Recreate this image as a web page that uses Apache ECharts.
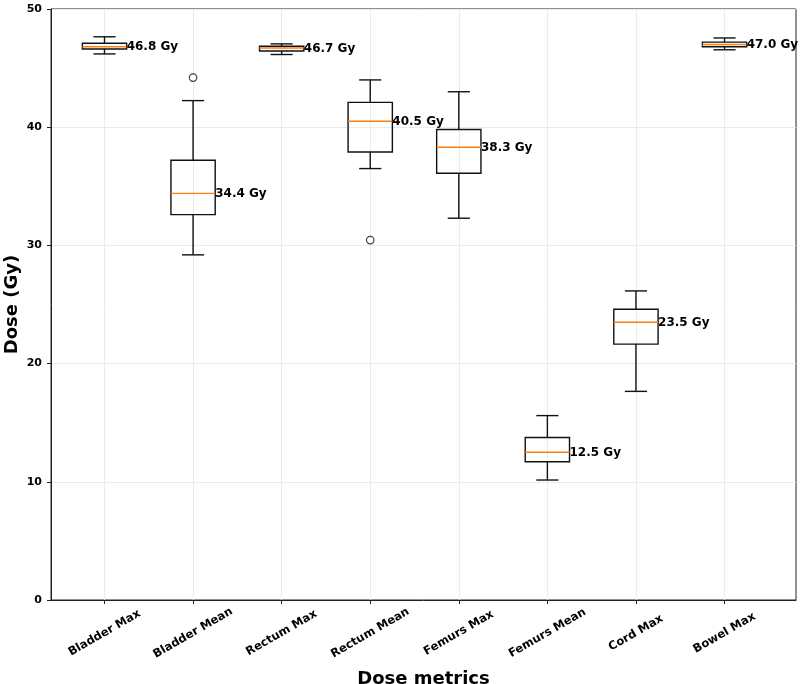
<!DOCTYPE html>
<html>
<head>
<meta charset="utf-8">
<script src="https://cdn.jsdelivr.net/npm/echarts@6/dist/echarts.min.js"></script>
<style>
  html, body { margin: 0; padding: 0; background: #fff; }
  #chart { width: 800px; height: 684px; }
</style>
</head>
<body>
<div id="chart"></div>
<script>
// ---- data ----
const categories = ['Bladder Max', 'Bladder Mean', 'Rectum Max', 'Rectum Mean', 'Femurs Max', 'Femurs Mean', 'Cord Max', 'Bowel Max'];
const whiskerLow  = [46.20, 29.20, 46.15, 36.50, 32.30, 10.15, 17.65, 46.55];
const q1          = [46.62, 32.60, 46.45, 37.90, 36.10, 11.70, 21.65, 46.80];
const median      = [46.80, 34.40, 46.70, 40.50, 38.30, 12.50, 23.50, 47.00];
const q3          = [47.10, 37.20, 46.85, 42.10, 39.80, 13.75, 24.60, 47.20];
const whiskerHigh = [47.65, 42.25, 47.05, 44.00, 43.00, 15.60, 26.15, 47.55];
// outliers: [category index, value]
const outliers = [[1, 44.2], [3, 30.45]];
const yTicks = [0, 10, 20, 30, 40, 50];

const positions = categories.map((c, i) => i + 1);
const boxData = categories.map((c, i) => [positions[i], whiskerLow[i], q1[i], median[i], q3[i], whiskerHigh[i]]);
const outlierData = outliers.map(o => [positions[o[0]], o[1]]);

const FONT = '"DejaVu Sans", sans-serif';
const LW = 1.4;

const chart = echarts.init(document.getElementById('chart'), null, { renderer: 'canvas' });

function renderBox(params, api) {
  const x = api.value(0);
  const lo = api.value(1), a = api.value(2), m = api.value(3), b = api.value(4), hi = api.value(5);
  const pL = api.coord([x - 0.25, a]);
  const pR = api.coord([x + 0.25, b]);
  const pc = api.coord([x, m]);
  const pLo = api.coord([x, lo]);
  const pHi = api.coord([x, hi]);
  const pCapL = api.coord([x - 0.125, lo]);
  const pCapR = api.coord([x + 0.125, lo]);
  const xc = pc[0];
  const yA = pL[1], yB = pR[1];
  const lineStyle = { stroke: '#111', lineWidth: LW, fill: null };
  return {
    type: 'group',
    children: [
      { type: 'line', shape: { x1: xc, y1: yA, x2: xc, y2: pLo[1] }, style: lineStyle },
      { type: 'line', shape: { x1: xc, y1: yB, x2: xc, y2: pHi[1] }, style: lineStyle },
      { type: 'line', shape: { x1: pCapL[0], y1: pLo[1], x2: pCapR[0], y2: pLo[1] }, style: lineStyle },
      { type: 'line', shape: { x1: pCapL[0], y1: pHi[1], x2: pCapR[0], y2: pHi[1] }, style: lineStyle },
      { type: 'rect', shape: { x: pL[0], y: yB, width: pR[0] - pL[0], height: yA - yB }, style: { stroke: '#111', lineWidth: LW, fill: 'rgba(0,0,0,0)' } },
      { type: 'line', shape: { x1: pL[0], y1: pc[1], x2: pR[0], y2: pc[1] }, style: { stroke: '#ff7f0e', lineWidth: LW } },
      { type: 'text', x: pR[0], y: pc[1] + 0.5, style: {
          text: m.toFixed(1) + ' Gy', fill: '#000', font: 'bold 12px ' + FONT,
          textAlign: 'left', textVerticalAlign: 'middle' } }
    ]
  };
}

const option = {
  backgroundColor: '#fff',
  animation: false,
  grid: { left: 51, right: 4, top: 9, bottom: 84, outerBoundsMode: 'none', containLabel: false,
          show: true, borderColor: '#222', borderWidth: 1, backgroundColor: 'transparent' },
  xAxis: {
    type: 'value', min: 0.396, max: 8.807,
    name: 'Dose metrics', nameLocation: 'middle', nameGap: 70, nameMoveOverlap: false,
    nameTextStyle: { fontFamily: FONT, fontWeight: 'bold', fontSize: 18, color: '#000' },
    axisLine: { show: true, lineStyle: { color: '#222', width: 1 } },
    axisTick: { show: true, inside: false, length: 4, customValues: positions, lineStyle: { color: '#222' } },
    axisLabel: {
      customValues: positions, rotate: 30, align: 'center', verticalAlign: 'middle', margin: 33,
      fontFamily: FONT, fontWeight: 'bold', fontSize: 11.5, color: '#000',
      formatter: v => categories[Math.round(v) - 1] || ''
    },
    splitLine: { show: true, customValues: positions, lineStyle: { color: '#ebebeb', width: 1 } }
  },
  yAxis: {
    type: 'value', min: yTicks[0], max: yTicks[yTicks.length - 1], interval: 10,
    name: 'Dose (Gy)', nameLocation: 'middle', nameGap: 30, nameMoveOverlap: false,
    nameTextStyle: { fontFamily: FONT, fontWeight: 'bold', fontSize: 18, color: '#000' },
    axisLine: { show: true, lineStyle: { color: '#222', width: 1 } },
    axisTick: { show: true, inside: false, length: 4, lineStyle: { color: '#222' } },
    axisLabel: { fontFamily: FONT, fontWeight: 'bold', fontSize: 11, color: '#000', margin: 9 },
    splitLine: { show: true, lineStyle: { color: '#ebebeb', width: 1 } }
  },
  series: [
    {
      type: 'custom', name: 'boxes', data: boxData, renderItem: renderBox, clip: false,
      encode: { x: 0, y: [1, 2, 3, 4, 5] }, z: 3
    },
    {
      type: 'scatter', name: 'outliers', data: outlierData, symbol: 'circle', symbolSize: 7.5,
      itemStyle: { color: '#fff', borderColor: '#111', borderWidth: 1.2 }, z: 4
    }
  ]
};
chart.setOption(option);
</script>
</body>
</html>
